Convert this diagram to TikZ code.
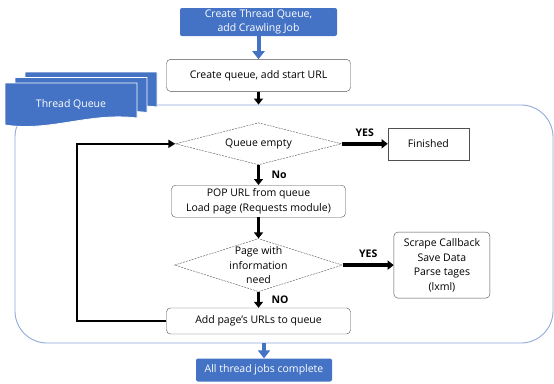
\documentclass[tikz,border=0pt]{standalone}
\usepackage{fontspec}
\setmainfont{Open Sans}
\usetikzlibrary{arrows.meta,positioning,shapes.geometric}
\definecolor{qblue}{HTML}{4472C4}
\definecolor{framebl}{HTML}{8FAADC}
\definecolor{edgegr}{HTML}{505050}

\begin{document}
\begin{tikzpicture}[x=1pt, y=-1pt, font=\fontsize{10.5}{14.5}\selectfont,
  box/.style={draw=edgegr, rounded corners=4pt, fill=white, align=center, inner sep=0pt},
  bluebox/.style={fill=qblue, text=white, rounded corners=2pt, align=center, inner sep=0pt},
  dia/.style={draw=edgegr, dash pattern=on 2pt off 1pt, diamond, aspect=4, inner sep=0pt, fill=white},
  flow/.style={-{Triangle[width=9pt,length=6pt]}, line width=3.5pt},
  bflow/.style={qblue, -{Triangle[width=12pt,length=8pt]}, line width=4pt},
  tag/.style={font=\fontsize{10.5}{12}\selectfont\bfseries}]
  \useasboundingbox (0,0) rectangle (554,383);

  % thread frame and stacked tab
  \node[draw=framebl, line width=0.9pt, rounded corners=32pt, minimum width=538pt, minimum height=238pt] (threadbox) at (284,224) {};
  \foreach \dx/\dy in {20/-11, 10/-5.5, 0/0}
    \draw[white, line width=0.8pt, fill=qblue, shift={(\dx,\dy)}] (5,83) -- (137,83) -- (137,118) .. controls (90,112) and (50,132) .. (5,125) -- cycle;
  \node[text=white] (tabtitle) at (71,104) {Thread Queue};

  % main column
  \node[bluebox, minimum width=157pt, minimum height=28pt] (start) at (258.5,22) {Create Thread Queue,\\ add Crawling Job};
  \node[box, minimum width=184pt, minimum height=32pt, below=23pt of start] (createq) {Create queue, add start URL};
  \node[dia, minimum width=166pt, minimum height=42pt, below=31pt of createq] (qempty) {Queue empty};
  \node[box, minimum width=174pt, minimum height=32pt, below=20pt of qempty] (pop) {POP URL from queue\\Load page (Requests module)};
  \node[dia, minimum width=168pt, minimum height=53pt, below=21pt of pop] (needq) {};
  \node[align=center] (needtxt) at (needq) {Page with\\information\\need};
  \node[box, minimum width=184pt, minimum height=26pt, below=16pt of needq] (addurls) {Add page's URLs to queue};
  \node[bluebox, minimum width=136pt, minimum height=23pt] (alldone) at (264,370) {All thread jobs complete};

  % side boxes
  \node[draw=edgegr, fill=white, minimum width=81pt, minimum height=32pt, inner sep=0pt, right=46pt of qempty] (finished) {Finished};
  \node[box, minimum width=96pt, minimum height=66pt, right=51pt of needq] (scrape) {Scrape Callback\\Save Data\\Parse tages\\(lxml)};

  % connectors
  \draw[bflow] (start) -- (createq);
  \draw[flow] (createq) -- (createq |- threadbox.north);
  \draw[flow] (qempty) -- node[tag, above=2pt] (yes1) {YES} (finished);
  \draw[flow] (qempty) -- node[tag, right=8pt] (no1) {No} (pop);
  \draw[flow] (pop) -- (needq);
  \draw[flow] (needq) -- node[tag, above=2pt] (yes2) {YES} (scrape);
  \draw[flow] (needq) -- node[tag, right=8pt] (no2) {NO} (addurls);
  \draw[-{Triangle[width=8pt,length=7pt]}, line width=2pt] (addurls.west) -- ++(-89,0) |- (qempty.west);
  \draw[bflow] (alldone.north |- threadbox.south) -- (alldone);
\end{tikzpicture}
\end{document}
